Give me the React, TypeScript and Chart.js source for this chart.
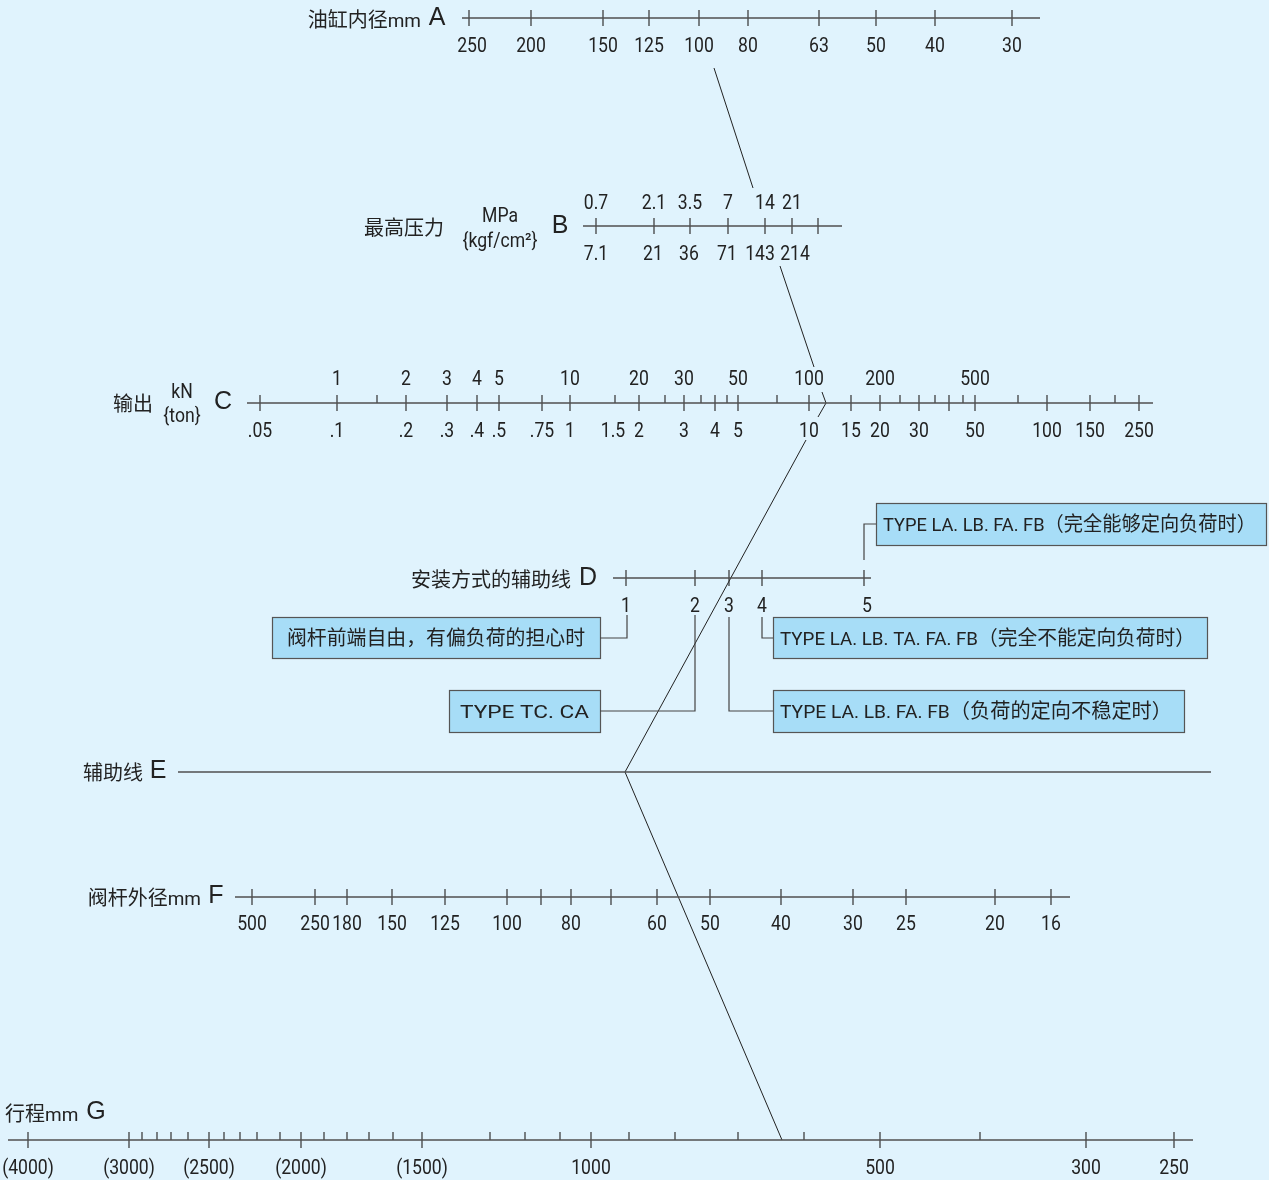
import { useEffect, useRef } from 'react';
import { Chart, registerables } from 'chart.js';
Chart.register(...registerables);

const W = 1269;
const H = 1180;
const BG = '#e0f3fd';
const BOX_FILL = '#a7ddf7';

// ---- nomogram scale readings (position along each scale, value label) ----
// A: cylinder bore (mm)
const boreLabels = ['250', '200', '150', '125', '100', '80', '63', '50', '40', '30'];
const borePos = [469, 531, 603, 649, 699, 748, 819, 876, 935, 1012];
// B: max pressure
const pressureMPa = ['0.7', '2.1', '3.5', '7', '14', '21', ''];
const pressureKgf = ['7.1', '21', '36', '71', '143', '214', ''];
const pressurePos = [596, 654, 690, 728, 765, 792, 818];
const pressureKgfLabelPos = [596, 653, 689, 727, 760, 795, 818];
// C: output
const outputKN = ['', '1', '2', '3', '4', '5', '', '10', '20', '30', '', '50', '100', '', '200', '', '', '500', '', '', ''];
const outputTon = ['.05', '.1', '.2', '.3', '.4', '.5', '.75', '1', '2', '3', '4', '5', '10', '15', '20', '30', '', '50', '100', '150', '250'];
const outputPos = [260, 337, 406, 447, 477, 499, 542, 570, 639, 684, 715, 738, 809, 851, 880, 919, 949, 975, 1047, 1090, 1139];
const outputMinorPos = [377, 615, 665, 701, 727, 777, 900, 935, 963, 1018, 1115];
const outputMinorLabels = ['', '1.5', '', '', '', '', '', '', '', '', ''];
// D: mounting auxiliary line
const mountLabels = ['1', '2', '3', '4', '5'];
const mountPos = [626, 695, 729, 762, 864];
// F: rod diameter (mm)
const rodLabels = ['500', '250', '180', '150', '125', '100', '', '80', '', '60', '50', '40', '30', '25', '20', '16'];
const rodPos = [252, 315, 347, 392, 445, 507, 541, 571, 611, 657, 710, 781, 853, 906, 995, 1051];
// G: stroke (mm)
const strokeLabels = ['(4000)', '(3000)', '(2500)', '(2000)', '(1500)', '1000', '500', '300', '250'];
const strokePos = [28, 129, 209, 301, 422, 591, 880, 1086, 1174];
const strokeMinorPos = [142, 157, 171, 188, 224, 240, 257, 280, 324, 347, 369, 393, 490, 525, 560, 629, 675, 738, 804, 980];

// rows (vertical level of each scale) and extents
const rows = { A: 18, B: 226, C: 403, D: 578, E: 772, F: 897, G: 1140 };
const extents = {
  A: [462, 1040], B: [583, 842], C: [247, 1153], D: [613, 871], E: [178, 1211], F: [235, 1070], G: [8, 1193],
};

// worked example line (A=100 -> B=14 -> C -> D=3 -> E -> G)
const solutionPieces = [
  [[714, 68], [753, 188]],
  [[780, 266], [814, 367]],
  [[822, 392], [826, 403], [818, 417]],
  [[806, 440], [625, 772], [782, 1140]],
];

// callout boxes: [x1, y1, x2, y2, text, align, text width]
const callouts: [number, number, number, number, string, string, number][] = [
  [876, 503, 1266, 545, 'TYPE LA. LB. FA. FB（完全能够定向负荷时）', 'left', 373],
  [272, 617, 600, 658, '阀杆前端自由，有偏负荷的担心时', 'center', 298],
  [449, 690, 600, 732, 'TYPE TC. CA', 'center', 129],
  [773, 617, 1207, 658, 'TYPE LA. LB. TA. FA. FB（完全不能定向负荷时）', 'left', 415],
  [773, 690, 1184, 732, 'TYPE LA. LB. FA. FB（负荷的定向不稳定时）', 'left', 392],
];
const calloutLeaders = [
  [[864, 560], [864, 524], [876, 524]],
  [[600, 638], [627, 638], [627, 615]],
  [[600, 711], [695, 711], [695, 615]],
  [[762, 617], [762, 638], [773, 638]],
  [[729, 617], [729, 711], [773, 711]],
];

type Pt = { x: number; y: number | null };

function segs(list: number[][][]): Pt[] {
  const out: Pt[] = [];
  list.forEach((poly) => {
    poly.forEach(([x, y]) => out.push({ x, y }));
    out.push({ x: poly[poly.length - 1][0], y: null });
  });
  return out;
}

const LETTER_FONT = '25px "Liberation Sans", Arial, sans-serif';

function isCJK(ch: string) {
  return /[\u2E80-\u9FFF\uFF00-\uFFEF\u3000-\u303F]/.test(ch);
}

type RichOpts = { ascii?: number; cjk?: number; fit?: number; sx?: number };

function drawRich(ctx: CanvasRenderingContext2D, text: string, x: number, y: number, align: string, opts: RichOpts = {}) {
  const asciiSize = opts.ascii ?? 19;
  const cjkSize = opts.cjk ?? 20;
  const runs: { t: string; cjk: boolean }[] = [];
  for (const ch of text) {
    const c = isCJK(ch);
    if (runs.length && runs[runs.length - 1].cjk === c) runs[runs.length - 1].t += ch;
    else runs.push({ t: ch, cjk: c });
  }
  const fontFor = (c: boolean) =>
    c ? `${cjkSize}px "Noto Sans CJK SC", sans-serif` : `${asciiSize}px Roboto, "Noto Sans CJK SC", sans-serif`;
  let total = 0;
  const widths = runs.map((r) => {
    ctx.font = fontFor(r.cjk);
    const w = ctx.measureText(r.t).width;
    total += w;
    return w;
  });
  const sx = opts.fit ? opts.fit / total : opts.sx ?? 1;
  const drawn = total * sx;
  const start = align === 'left' ? x : align === 'right' ? x - drawn : x - drawn / 2;
  ctx.save();
  ctx.translate(start, y);
  ctx.scale(sx, 1);
  ctx.textAlign = 'left';
  ctx.textBaseline = 'alphabetic';
  let cx = 0;
  runs.forEach((r, i) => {
    ctx.font = fontFor(r.cjk);
    ctx.fillText(r.t, cx, 7);
    cx += widths[i];
  });
  ctx.restore();
}

export default function App() {
  const ref = useRef<HTMLCanvasElement>(null);
  useEffect(() => {
    document.body.style.margin = '0';
    document.body.style.background = BG;
    const canvas = ref.current!;

    const axisLines: number[][][] = (Object.keys(extents) as (keyof typeof extents)[]).map((k) => [
      [extents[k][0], rows[k]],
      [extents[k][1], rows[k]],
    ]);
    const full = (x: number, y: number) => [[x, y - 8], [x, y + 8]];
    const half = (x: number, y: number) => [[x, y - 8], [x, y]];
    const ticks: number[][][] = [
      ...borePos.map((x) => full(x, rows.A)),
      ...pressurePos.map((x) => full(x, rows.B)),
      ...outputPos.map((x) => full(x, rows.C)),
      ...outputMinorPos.map((x) => half(x, rows.C)),
      ...mountPos.map((x) => full(x, rows.D)),
      ...rodPos.map((x) => full(x, rows.F)),
      ...strokePos.map((x) => full(x, rows.G)),
      ...strokeMinorPos.map((x) => half(x, rows.G)),
    ];

    const textPlugin = {
      id: 'nomoText',
      beforeDraw(chart: any) {
        const { ctx } = chart;
        ctx.save();
        ctx.fillStyle = BG;
        ctx.fillRect(0, 0, chart.width, chart.height);
        ctx.restore();
      },
      beforeDatasetsDraw(chart: any) {
        const { ctx, scales } = chart;
        const px = (v: number) => scales.x.getPixelForValue(v);
        const py = (v: number) => scales.y.getPixelForValue(v);
        ctx.save();
        callouts.forEach(([x1, y1, x2, y2]) => {
          ctx.fillStyle = BOX_FILL;
          ctx.fillRect(px(x1), py(y1), px(x2) - px(x1), py(y2) - py(y1));
          ctx.strokeStyle = '#555';
          ctx.lineWidth = 1.2;
          ctx.strokeRect(px(x1) + 0.5, py(y1) + 0.5, px(x2) - px(x1), py(y2) - py(y1));
        });
        ctx.restore();
      },
      afterDatasetsDraw(chart: any) {
        const { ctx, scales } = chart;
        const px = (v: number) => scales.x.getPixelForValue(v);
        const py = (v: number) => scales.y.getPixelForValue(v);
        ctx.save();
        ctx.fillStyle = '#222';
        const num = (t: string, x: number, y: number) => {
          if (!t) return;
          drawRich(ctx, t, px(x), py(y), 'center', { ascii: 20, sx: 0.88 });
        };
        const title = (t: string, x: number, y: number, align: string) => drawRich(ctx, t, px(x), py(y), align, { ascii: 19, cjk: 20 });
        const letter = (t: string, x: number, y: number) => {
          ctx.font = LETTER_FONT;
          ctx.textAlign = 'center';
          ctx.textBaseline = 'middle';
          ctx.fillText(t, px(x), py(y));
        };
        // A
        boreLabels.forEach((t, i) => num(t, borePos[i] + (i === 0 ? 3 : 0), rows.A + 27));
        title('油缸内径mm', 421, rows.A + 2, 'right');
        letter('A', 437, rows.A);
        // B
        pressureMPa.forEach((t, i) => num(t, pressurePos[i], rows.B - 24));
        pressureKgf.forEach((t, i) => num(t, pressureKgfLabelPos[i], rows.B + 27));
        title('最高压力', 404, rows.B + 2, 'center');
        num('MPa', 500, rows.B - 11);
        num('{kgf/cm²}', 500, rows.B + 14);
        letter('B', 560, rows.B);
        // C
        outputKN.forEach((t, i) => num(t, outputPos[i], rows.C - 25));
        outputTon.forEach((t, i) => num(t, outputPos[i], rows.C + 27));
        outputMinorLabels.forEach((t, i) => num(t, outputMinorPos[i] - 2, rows.C + 27));
        title('输出', 133, rows.C + 1, 'center');
        num('kN', 182, rows.C - 12);
        num('{ton}', 182, rows.C + 12);
        letter('C', 223, rows.C - 1);
        // D
        mountLabels.forEach((t, i) => num(t, mountPos[i] + (i === 4 ? 3 : 0), rows.D + 27));
        title('安装方式的辅助线', 571, rows.D + 2, 'right');
        letter('D', 588, rows.D);
        // E
        title('辅助线', 143, rows.E + 1, 'right');
        letter('E', 158, rows.E - 1);
        // F
        rodLabels.forEach((t, i) => num(t, rodPos[i], rows.F + 26));
        title('阀杆外径mm', 201, rows.F + 1, 'right');
        letter('F', 216, rows.F - 1);
        // G
        strokeLabels.forEach((t, i) => num(t, strokePos[i], rows.G + 27));
        title('行程mm', 5, rows.G - 26, 'left');
        letter('G', 96, rows.G - 28);
        // callout texts
        callouts.forEach(([x1, y1, x2, y2, text, align, tw]) => {
          const cy = py((y1 + y2) / 2);
          if (align === 'left') drawRich(ctx, text, px(x1 + 7), cy, 'left', { ascii: 19, cjk: 20, fit: tw });
          else drawRich(ctx, text, px((x1 + x2) / 2), cy, 'center', { ascii: 19, cjk: 20, fit: tw });
        });
        ctx.restore();
      },
    };

    const line = (label: string, data: Pt[], color: string, width: number) => ({
      label,
      data,
      showLine: true,
      borderColor: color,
      borderWidth: width,
      pointRadius: 0,
      spanGaps: false,
    });

    const chart = new Chart(canvas, {
      type: 'scatter',
      data: {
        datasets: [
          line('axes', segs(axisLines), '#505050', 1.5),
          line('ticks', segs(ticks), '#333', 1.2),
          line('leaders', segs(calloutLeaders), '#444', 1.2),
          line('solution', segs(solutionPieces), '#222', 1),
        ],
      },
      options: {
        animation: false,
        responsive: false,
        devicePixelRatio: 1,
        layout: { padding: 0 },
        plugins: { legend: { display: false }, tooltip: { enabled: false } },
        events: [],
        scales: {
          x: { type: 'linear', min: 0, max: W, display: false },
          y: { type: 'linear', min: 0, max: H, reverse: true, display: false },
        },
      },
      plugins: [textPlugin],
    });
    return () => chart.destroy();
  }, []);
  return (
    <div style={{ position: 'absolute', left: 0, top: 0, width: W, height: H }}>
      <canvas ref={ref} width={W} height={H} style={{ display: 'block', width: W, height: H }} />
    </div>
  );
}
